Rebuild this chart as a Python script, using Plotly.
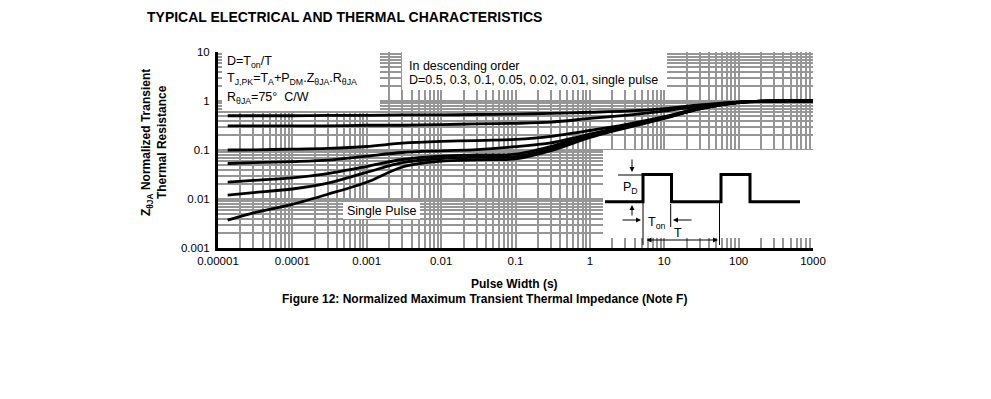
import plotly.graph_objects as go

# ---------------- data ----------------
pulse_width = [1.35e-5, 3e-5, 1e-4, 3e-4, 1e-3, 3e-3, 1e-2, 3e-2, 0.1, 0.3, 1, 3, 10, 30, 100, 300, 1000]

z_d05 = [0.50, 0.50, 0.50, 0.51, 0.51, 0.52, 0.52, 0.53, 0.54, 0.56, 0.59, 0.62, 0.70, 0.83, 0.96, 1.0, 1.0]
z_d03 = [0.31, 0.31, 0.31, 0.31, 0.32, 0.32, 0.33, 0.34, 0.35, 0.37, 0.44, 0.51, 0.62, 0.79, 0.95, 1.0, 1.0]
z_d01 = [0.100, 0.101, 0.104, 0.108, 0.118, 0.138, 0.150, 0.156, 0.165, 0.19, 0.25, 0.33, 0.48, 0.72, 0.94, 1.0, 1.0]
z_d005 = [0.053, 0.055, 0.058, 0.062, 0.075, 0.089, 0.096, 0.102, 0.117, 0.14, 0.21, 0.31, 0.46, 0.71, 0.94, 1.0, 1.0]
z_d002 = [0.022, 0.024, 0.027, 0.033, 0.046, 0.064, 0.075, 0.079, 0.082, 0.118, 0.20, 0.30, 0.45, 0.70, 0.94, 1.0, 1.0]
z_d001 = [0.012, 0.0135, 0.016, 0.021, 0.035, 0.055, 0.067, 0.071, 0.073, 0.105, 0.19, 0.29, 0.45, 0.70, 0.93, 1.0, 1.0]
z_single = [0.0037, 0.0052, 0.0078, 0.0125, 0.022, 0.045, 0.059, 0.063, 0.066, 0.097, 0.18, 0.28, 0.44, 0.69, 0.93, 1.0, 1.0]

series_names = ["D=0.5", "D=0.3", "D=0.1", "D=0.05", "D=0.02", "D=0.01", "Single pulse"]
series_values = [z_d05, z_d03, z_d01, z_d005, z_d002, z_d001, z_single]

x_tickvals = [1e-5, 1e-4, 1e-3, 1e-2, 1e-1, 1, 10, 100, 1000]
x_ticktext = ["0.00001", "0.0001", "0.001", "0.01", "0.1", "1", "10", "100", "1000"]
y_tickvals = [0.001, 0.01, 0.1, 1, 10]
y_ticktext = ["0.001", "0.01", "0.1", "1", "10"]

# ---------------- layout geometry ----------------
W, H = 991, 399
L, R, T, B = 218, 813, 52, 248
FONT = "Liberation Sans, Arial, sans-serif"
GRID = "#969696"
TXT = 12.5


def px(x):
    return (x - L) / (R - L)


def py(y):
    return (B - y) / (B - T)


fig = go.Figure()
for name, vals in zip(series_names, series_values):
    fig.add_trace(go.Scatter(
        x=pulse_width, y=vals, name=name, mode="lines",
        line=dict(color="black", width=2.8, shape="spline", smoothing=0.8),
        showlegend=False, hoverinfo="x+y+name",
    ))

shapes = []
annotations = []


def white_box(x0, y0, x1, y1):
    shapes.append(dict(type="rect", xref="paper", yref="paper",
                       x0=px(x0), x1=px(x1), y0=py(y1), y1=py(y0),
                       fillcolor="white", line=dict(width=0), layer="above"))

white_box(222, 52, 380, 111)
white_box(402, 52, 667, 90)
white_box(343, 202, 420, 219)
white_box(603, 150, 813, 238)


def text(x, y, s, size=TXT, xanchor="left"):
    annotations.append(dict(x=px(x), y=py(y), xref="paper", yref="paper", text=s,
                            showarrow=False, xanchor=xanchor, yanchor="middle",
                            font=dict(family=FONT, size=size, color="black")))

text(225, 62, "D=T<sub>on</sub>/T")
text(225, 79, "T<sub>J,PK</sub>=T<sub>A</sub>+P<sub>DM</sub>.Z<sub>θJA</sub>.R<sub>θJA</sub>")
text(225, 98, "R<sub>θJA</sub>=75°  C/W")
text(407, 66, "In descending order")
text(407, 80, "D=0.5, 0.3, 0.1, 0.05, 0.02, 0.01, single pulse")
text(345, 211, "Single Pulse")

# pulse diagram
base_y, top_y = 201.7, 174.5
pulse_pts = [(605, base_y), (643, base_y), (643, top_y), (671.5, top_y), (671.5, base_y),
             (721, base_y), (721, top_y), (750, top_y), (750, base_y), (800, base_y)]
path = "M " + " L ".join(f"{px(x):.5f},{py(y):.5f}" for x, y in pulse_pts)
shapes.append(dict(type="path", xref="paper", yref="paper", path=path,
                   line=dict(color="black", width=3), layer="above"))


def thin(x0, y0, x1, y1):
    shapes.append(dict(type="line", xref="paper", yref="paper",
                       x0=px(x0), y0=py(y0), x1=px(x1), y1=py(y1),
                       line=dict(color="black", width=1), layer="above"))

thin(618, 175, 643, 175)
thin(643, 202, 643, 245)
thin(670.7, 204, 670.7, 227)
thin(719.5, 202, 719.5, 245)


def arrow(hx, hy, tx, ty, side="end"):
    annotations.append(dict(x=px(hx), y=py(hy), xref="paper", yref="paper",
                            ax=tx - hx, ay=ty - hy, axref="pixel", ayref="pixel",
                            text="", showarrow=True, arrowhead=2, arrowsize=1,
                            arrowwidth=1, arrowcolor="black", arrowside=side,
                            standoff=0, startstandoff=0))

arrow(632, 172, 632, 158)
arrow(632, 205, 632, 217)
arrow(641, 220, 621, 220)
arrow(673, 220, 693, 220)
arrow(718, 240, 645, 240, side="end+start")

text(630, 188, "P<sub>D</sub>", xanchor="center")
text(657, 223, "T<sub>on</sub>", xanchor="center")
text(678, 233, "T", xanchor="center")

# titles (paper coords are relative to the plot area, so convert from pixels)
annotations.append(dict(x=px(145), y=py(17), xref="paper", yref="paper",
                        text="<b>TYPICAL ELECTRICAL AND THERMAL CHARACTERISTICS</b>",
                        showarrow=False, xanchor="left", yanchor="middle",
                        font=dict(family=FONT, size=14, color="black")))
annotations.append(dict(x=px(154), y=py(143), xref="paper", yref="paper",
                        text="<b>Z<sub>θJA</sub> Normalized Transient<br>Thermal Resistance</b>",
                        showarrow=False, textangle=-90, xanchor="center", yanchor="middle",
                        font=dict(family=FONT, size=12, color="black")))
annotations.append(dict(x=px(514), y=py(283.5), xref="paper", yref="paper",
                        text="<b>Pulse Width (s)</b>",
                        showarrow=False, xanchor="center", yanchor="middle",
                        font=dict(family=FONT, size=12, color="black")))
annotations.append(dict(x=px(484.5), y=py(298.5), xref="paper", yref="paper",
                        text="<b>Figure 12: Normalized Maximum Transient Thermal Impedance (Note F)</b>",
                        showarrow=False, xanchor="center", yanchor="middle",
                        font=dict(family=FONT, size=12, color="black")))

fig.update_layout(
    width=W, height=H,
    margin=dict(l=L, r=W - R, t=T, b=H - B, pad=0),
    paper_bgcolor="white", plot_bgcolor="white",
    font=dict(family=FONT, size=11.5, color="black"),
    shapes=shapes, annotations=annotations,
    xaxis=dict(type="log", range=[-5, 3], tickvals=x_tickvals, ticktext=x_ticktext,
               showgrid=True, gridcolor=GRID, gridwidth=1.7,
               minor=dict(dtick="D1", showgrid=True, gridcolor=GRID, gridwidth=1.7, ticks=""),
               showline=True, linecolor="black", linewidth=3, ticks="",
               zeroline=False, ticklabelstandoff=0, tickfont=dict(size=11.5)),
    yaxis=dict(type="log", range=[-3, 1], tickvals=y_tickvals, ticktext=y_ticktext,
               showgrid=True, gridcolor=GRID, gridwidth=1.7,
               minor=dict(dtick="D1", showgrid=True, gridcolor=GRID, gridwidth=1.7, ticks=""),
               showline=True, linecolor="black", linewidth=3, ticks="",
               zeroline=False, ticklabelstandoff=3, tickfont=dict(size=11.5)),
)

fig.write_html("out.html", config={"displayModeBar": False},
               post_script="document.body.style.margin='0';")
